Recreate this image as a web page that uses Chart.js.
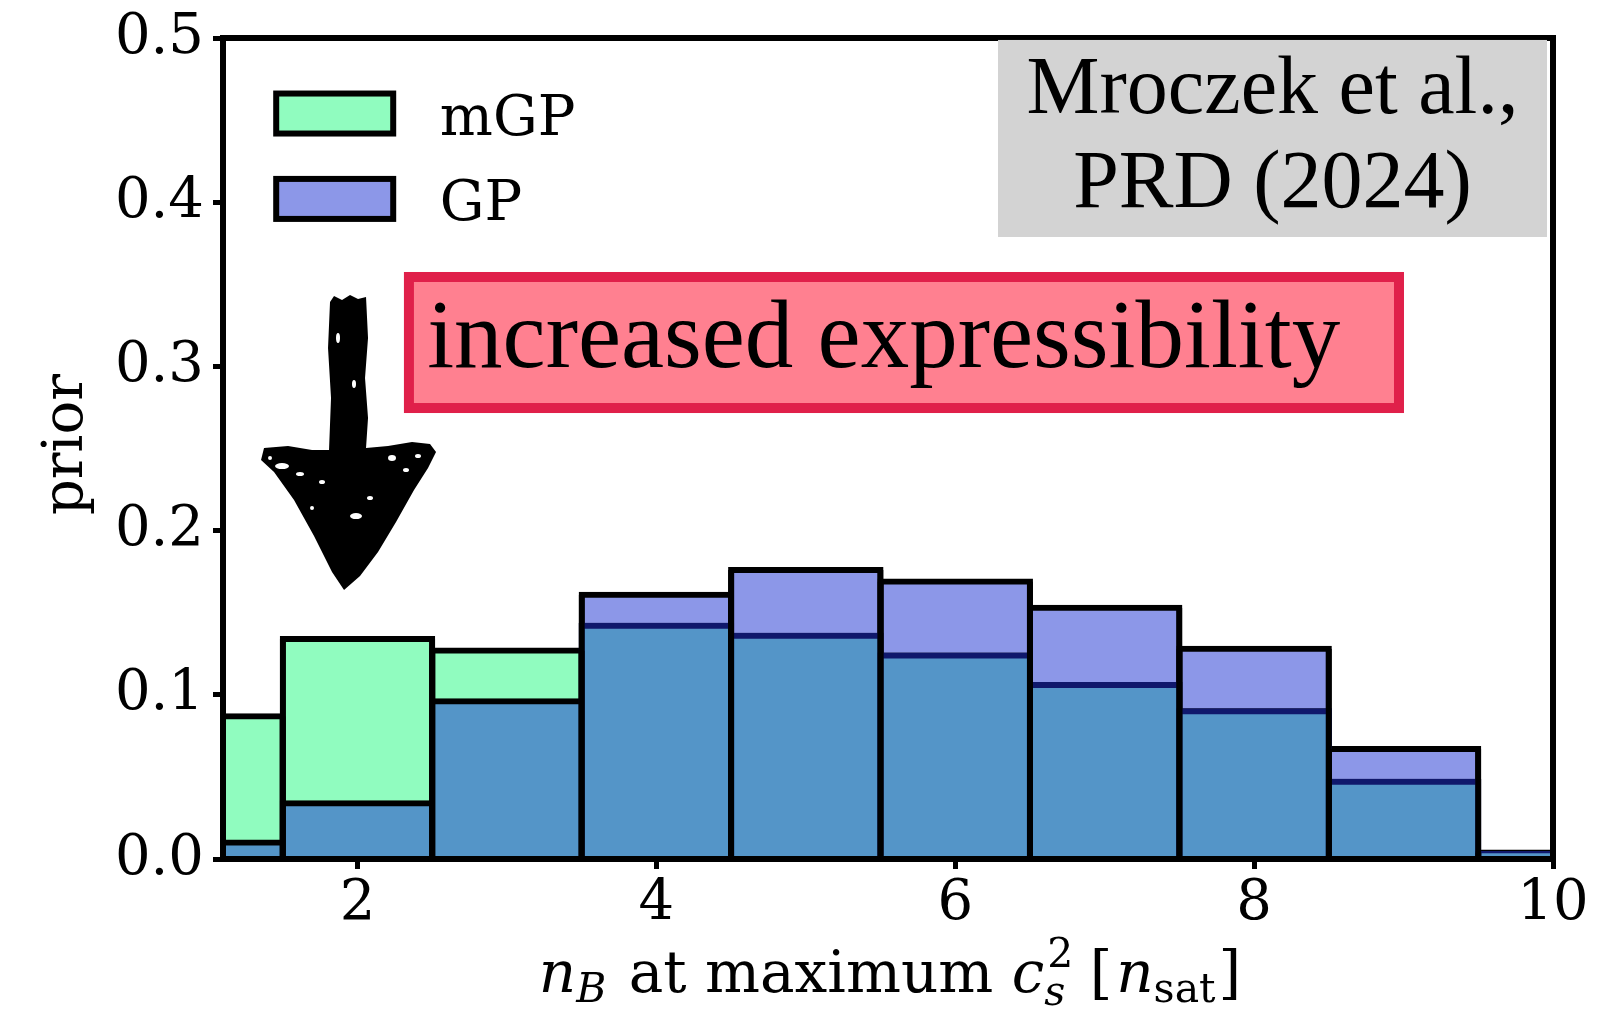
<!DOCTYPE html>
<html>
<head>
<meta charset="utf-8">
<title>prior on n_B at maximum sound speed</title>
<script src="https://cdn.jsdelivr.net/npm/chart.js@4.4.1/dist/chart.umd.min.js"></script>
<style>
  html, body { margin: 0; padding: 0; background: #fff; }
  #wrap { width: 1615px; height: 1010px; }
</style>
</head>
<body>
<div id="wrap"><canvas id="prior-chart" width="1615" height="1010"></canvas></div>
<script>
// histogram bins (unit width, centred on integers)
var binCenters = [1, 2, 3, 4, 5, 6, 7, 8, 9, 10];
var mgpPrior = [0.087, 0.134, 0.127, 0.142, 0.136, 0.124, 0.106, 0.090, 0.047, 0.003];
var gpPrior = [0.010, 0.034, 0.096, 0.161, 0.176, 0.169, 0.153, 0.128, 0.067, 0.004];

var xTicks = [2, 4, 6, 8, 10];
var yTicks = [0, 0.1, 0.2, 0.3, 0.4, 0.5];
var legendLabels = ["mGP", "GP"];
var citeLines = ["Mroczek et al.,", "PRD (2024)"];
var calloutText = "increased expressibility";

var green = "#90fcbf";
var purple = "#8c97e8";
var shared = "#5495c8";
var navy = "#10186c";
var tickFont = { family: "DejaVu Serif", size: 56 };

function points(values) {
    return binCenters.map(function(x, i) { return { x: x, y: values[i] }; });
}

// where both priors overlap the bar is drawn in the mixed colour;
// its top edge takes the outline of whichever histogram is lower
var overlap = binCenters.map(function(x, i) {
    return { x: x, y: Math.min(mgpPrior[i], gpPrior[i]) };
});
var envelope = binCenters.map(function(x, i) {
    return { x: x, y: Math.max(mgpPrior[i], gpPrior[i]) };
});
var overlapEdge = binCenters.map(function(x, i) {
    return gpPrior[i] < mgpPrior[i] ? "#000" : navy;
});

// axes frame, legend, labels and the two text boxes
var decorations = {
    id: "decorations",
    afterDatasetsDraw: function(chart) {
        var ctx = chart.ctx;
        var a = chart.chartArea;
        var w = a.right - a.left;
        var h = a.bottom - a.top;
        function ax(f) { return a.left + f * w; }
        function ay(f) { return a.top + f * h; }

        ctx.save();

        // frame
        ctx.strokeStyle = "#000";
        ctx.lineWidth = 6;
        ctx.strokeRect(a.left, a.top, w, h);

        // legend
        var swatches = [green, purple];
        var rows = [ay(0.092), ay(0.196)];
        ctx.font = "56px 'DejaVu Serif'";
        ctx.textBaseline = "alphabetic";
        ctx.textAlign = "left";
        for (var i = 0; i < 2; i++) {
            ctx.fillStyle = swatches[i];
            ctx.fillRect(ax(0.040), rows[i] - 20, 117, 40);
            ctx.lineWidth = 6;
            ctx.strokeStyle = "#000";
            ctx.strokeRect(ax(0.040), rows[i] - 20, 117, 40);
            ctx.fillStyle = "#000";
            ctx.fillText(legendLabels[i], ax(0.163), rows[i] + 21);
        }

        // citation box
        var bx0 = ax(0.5827), bx1 = ax(0.9955);
        ctx.fillStyle = "#d3d3d3";
        ctx.fillRect(bx0, ay(0.0024), bx1 - bx0, ay(0.2424) - ay(0.0024));
        ctx.fillStyle = "#000";
        ctx.font = "82px 'Liberation Serif'";
        ctx.textAlign = "center";
        ctx.fillText(citeLines[0], (bx0 + bx1) / 2, ay(0.0914));
        ctx.fillText(citeLines[1], (bx0 + bx1) / 2, ay(0.2058));

        // red callout
        var rx0 = ax(0.1398), rx1 = ax(0.8842), ry0 = ay(0.2911), ry1 = ay(0.4507);
        ctx.fillStyle = "#ff8090";
        ctx.fillRect(rx0, ry0, rx1 - rx0, ry1 - ry0);
        ctx.strokeStyle = "#e0204a";
        ctx.lineWidth = 10;
        ctx.strokeRect(rx0, ry0, rx1 - rx0, ry1 - ry0);
        ctx.fillStyle = "#000";
        ctx.font = "97px 'Liberation Serif'";
        ctx.textAlign = "left";
        ctx.fillText(calloutText, ax(0.1535), ay(0.4007));

        drawArrow(ctx, ax(0.0940), ay(0.3167));

        // y label
        ctx.save();
        ctx.translate(82, (a.top + a.bottom) / 2 - 4);
        ctx.rotate(-Math.PI / 2);
        ctx.font = "56px 'DejaVu Serif'";
        ctx.textAlign = "center";
        ctx.fillText("prior", 0, 0);
        ctx.restore();

        drawXTitle(ctx, (a.left + a.right) / 2 + 2, 992);

        ctx.restore();
    }
};

// hand-drawn style arrow pointing down at the low-density bins
function drawArrow(ctx, cx, top) {
    ctx.save();
    ctx.translate(cx, top);
    ctx.fillStyle = "#000";
    ctx.beginPath();
    ctx.moveTo(-18, 4);
    ctx.lineTo(-14, -2);
    ctx.lineTo(-6, 2);
    ctx.lineTo(2, -3);
    ctx.lineTo(10, 1);
    ctx.lineTo(18, -1);
    ctx.lineTo(20, 40);
    ctx.lineTo(17, 80);
    ctx.lineTo(20, 120);
    ctx.lineTo(18, 150);
    ctx.lineTo(40, 148);
    ctx.lineTo(64, 144);
    ctx.lineTo(82, 146);
    ctx.lineTo(88, 154);
    ctx.lineTo(80, 170);
    ctx.lineTo(66, 192);
    ctx.lineTo(48, 224);
    ctx.lineTo(30, 254);
    ctx.lineTo(12, 278);
    ctx.lineTo(-4, 292);
    ctx.lineTo(-16, 274);
    ctx.lineTo(-34, 238);
    ctx.lineTo(-54, 202);
    ctx.lineTo(-74, 174);
    ctx.lineTo(-87, 162);
    ctx.lineTo(-84, 150);
    ctx.lineTo(-60, 148);
    ctx.lineTo(-36, 152);
    ctx.lineTo(-19, 152);
    ctx.lineTo(-17, 100);
    ctx.lineTo(-20, 50);
    ctx.closePath();
    ctx.fill();

    // speckles in the ink
    ctx.fillStyle = "#fff";
    var specks = [[-66, 168, 7, 3], [-48, 176, 4, 2], [8, 218, 6, 3], [44, 160, 4, 3],
                  [-26, 184, 3, 2], [58, 172, 3, 2], [-10, 40, 2, 5], [6, 86, 2, 4],
                  [22, 200, 3, 2], [-36, 210, 2, 2], [70, 158, 3, 2], [-78, 160, 2, 2]];
    specks.forEach(function(s) {
        ctx.beginPath();
        ctx.ellipse(s[0], s[1], s[2], s[3], 0, 0, Math.PI * 2);
        ctx.fill();
    });
    ctx.restore();
}

// n_B at maximum c_s^2 [n_sat], with sub- and superscripts
function drawXTitle(ctx, cx, base) {
    var big = 58, small = 41;
    var serif = "px 'DejaVu Serif'";
    var parts = [
        { t: "n", f: "italic " + big + serif, dy: 0 },
        { t: "B", f: "italic " + small + serif, dy: 10, pad: 4 },
        { t: " at maximum ", f: big + serif, dy: 0 },
        { t: "c", f: "italic " + big + serif, dy: 0 },
        { t: "2", f: small + serif, dy: -25, stack: true },
        { t: "s", f: "italic " + small + serif, dy: 13, pad: 6 },
        { t: " [", f: big + serif, dy: 0, pad: 4 },
        { t: "n", f: "italic " + big + serif, dy: 0 },
        { t: "sat", f: small + serif, dy: 10, pad: 3 },
        { t: "]", f: big + serif, dy: 0 }
    ];
    var total = 0;
    parts.forEach(function(p) {
        ctx.font = p.f;
        p.w = p.stack ? 0 : ctx.measureText(p.t).width + (p.pad || 0);
        total += p.w;
    });
    var x = cx - total / 2;
    ctx.fillStyle = "#000";
    ctx.textAlign = "left";
    ctx.textBaseline = "alphabetic";
    parts.forEach(function(p) {
        ctx.font = p.f;
        ctx.fillText(p.t, x + (p.stack ? 3 : 0), base + p.dy);
        x += p.w;
    });
}

// matplotlib-like outlines: a 6px edge centred on each bar boundary
var barBase = {
    grouped: false,
    clip: 0,
    categoryPercentage: 1,
    barPercentage: 1,
    inflateAmount: 3,
    borderWidth: 6,
    borderSkipped: "start"
};

new Chart(document.getElementById("prior-chart"), {
    type: "bar",
    data: {
        datasets: [
            // black side edges of the taller histogram, redrawn over the overlap
            Object.assign({}, barBase, { label: "outline", data: envelope, backgroundColor: "rgba(0,0,0,0)",
                borderColor: "#000", order: -2, inflateAmount: 0, barPercentage: 1.04,
                borderWidth: { top: 0, left: 6, right: 6, bottom: 0 } }),
            Object.assign({}, barBase, { label: "overlap", data: overlap, backgroundColor: shared,
                borderColor: overlapEdge, order: -1 }),
            Object.assign({}, barBase, { label: legendLabels[0], data: points(mgpPrior),
                backgroundColor: green, borderColor: "#000" }),
            Object.assign({}, barBase, { label: legendLabels[1], data: points(gpPrior),
                backgroundColor: purple, borderColor: "#000" })
        ]
    },
    options: {
        responsive: false,
        animation: false,
        layout: { padding: { top: 38, right: 62, left: 0, bottom: 0 } },
        plugins: { legend: { display: false }, tooltip: { enabled: false } },
        scales: {
            x: {
                type: "linear",
                min: 1.1,
                max: 10,
                offset: false,
                afterBuildTicks: function(s) { s.ticks = xTicks.map(function(v) { return { value: v }; }); },
                afterFit: function(s) { s.height = 151; s.paddingLeft = 0; s.paddingRight = 0; },
                grid: { offset: false, drawOnChartArea: false, tickLength: 10, tickWidth: 5, tickColor: "#000" },
                border: { display: true, width: 6, color: "#000" },
                ticks: { font: tickFont, color: "#000", padding: 2, maxRotation: 0, autoSkip: false }
            },
            y: {
                min: 0,
                max: 0.5,
                afterBuildTicks: function(s) { s.ticks = yTicks.map(function(v) { return { value: v }; }); },
                afterFit: function(s) { s.width = 223; s.paddingTop = 0; s.paddingBottom = 0; },
                grid: { drawOnChartArea: false, tickLength: 10, tickWidth: 5, tickColor: "#000" },
                border: { display: true, width: 6, color: "#000" },
                ticks: {
                    font: tickFont, color: "#000", padding: 9,
                    callback: function(v) { return v.toFixed(1); }
                }
            }
        }
    },
    plugins: [decorations]
});
</script>
</body>
</html>
